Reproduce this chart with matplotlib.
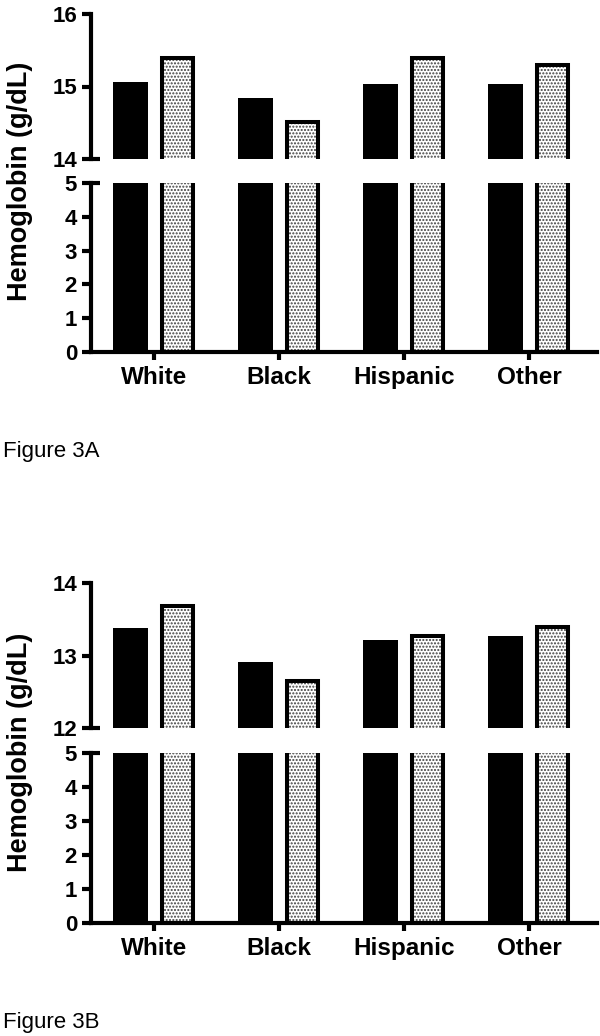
import numpy as np
import matplotlib
matplotlib.use("Agg")
import matplotlib.pyplot as plt

plt.rcParams['font.family'] = ['Liberation Sans', 'DejaVu Sans']
plt.rcParams['hatch.linewidth'] = 1.0

groups = ["White", "Black", "Hispanic", "Other"]

# Figure 3A
a_black = [15.06, 14.84, 15.03, 15.03]
a_dotted = [15.40, 14.51, 15.40, 15.30]
a_top_ticks = [14, 15, 16]

# Figure 3B
b_black = [13.38, 12.91, 13.21, 13.27]
b_dotted = [13.68, 12.65, 13.27, 13.39]
b_top_ticks = [12, 13, 14]

low_ticks = [0, 1, 2, 3, 4, 5]

W, H = 600, 1036
fig = plt.figure(figsize=(W / 100, H / 100), dpi=100)

LW = 3.0
x = np.arange(len(groups))


def px_axes(left, top, right, bottom):
    return fig.add_axes([left / W, 1 - bottom / H, (right - left) / W, (bottom - top) / H])


def draw_bars(ax, black, dotted):
    ax.bar(x - 0.188, black, width=0.28, color="black", edgecolor="black", linewidth=0)
    ax.bar(x + 0.188, dotted, width=0.248, color="white", edgecolor="#404040",
           hatch=".....", linewidth=0)
    ax.bar(x + 0.188, dotted, width=0.248, color="none", edgecolor="black", linewidth=2.9)
    ax.set_xlim(-0.504, 3.544)


def panel(top_px, brk_px, low_px, zero_px, black, dotted, top_ticks, label_y, fig_label, fig_label_y):
    up = px_axes(91, top_px, 597, brk_px)
    lo = px_axes(91, low_px, 597, zero_px)
    for ax in (up, lo):
        draw_bars(ax, black, dotted)
        ax.spines[['top', 'right']].set_visible(False)
        ax.spines['left'].set_linewidth(LW)
        ax.tick_params(axis='y', length=6.5, width=LW, pad=3.5, labelsize=16)
    up.spines['bottom'].set_visible(False)
    up.set_ylim(top_ticks[0], top_ticks[-1])
    up.set_yticks(top_ticks)
    up.set_xticks([])
    up.axhline(top_ticks[0], xmin=0, xmax=0.018, color="black", lw=LW, clip_on=False,
               solid_capstyle='butt')
    for t in up.get_yticklabels():
        t.set_fontweight('bold')

    lo.set_ylim(0, 5)
    lo.set_yticks(low_ticks)
    lo.spines['bottom'].set_linewidth(LW)
    lo.set_xticks(x)
    lo.set_xticklabels(groups, fontsize=17.5, fontweight='bold')
    lo.tick_params(axis='x', length=6, width=LW, pad=4)
    lo.axhline(5, xmin=0, xmax=0.018, color="black", lw=LW, clip_on=False,
               solid_capstyle='butt')
    for t in lo.get_yticklabels():
        t.set_fontweight('bold')

    fig.text(20 / W, 1 - label_y / H, "Hemoglobin (g/dL)", rotation=90, ha='center',
             va='center', fontsize=19.5, fontweight='bold')
    fig.text(3 / W, 1 - fig_label_y / H, fig_label, ha='left', va='baseline', fontsize=16)


panel(14, 159, 183, 352, a_black, a_dotted, a_top_ticks, 181.5, "Figure 3A", 457)
panel(583, 728, 753, 923, b_black, b_dotted, b_top_ticks, 752, "Figure 3B", 1028)

fig.savefig("out.png", dpi=100)
